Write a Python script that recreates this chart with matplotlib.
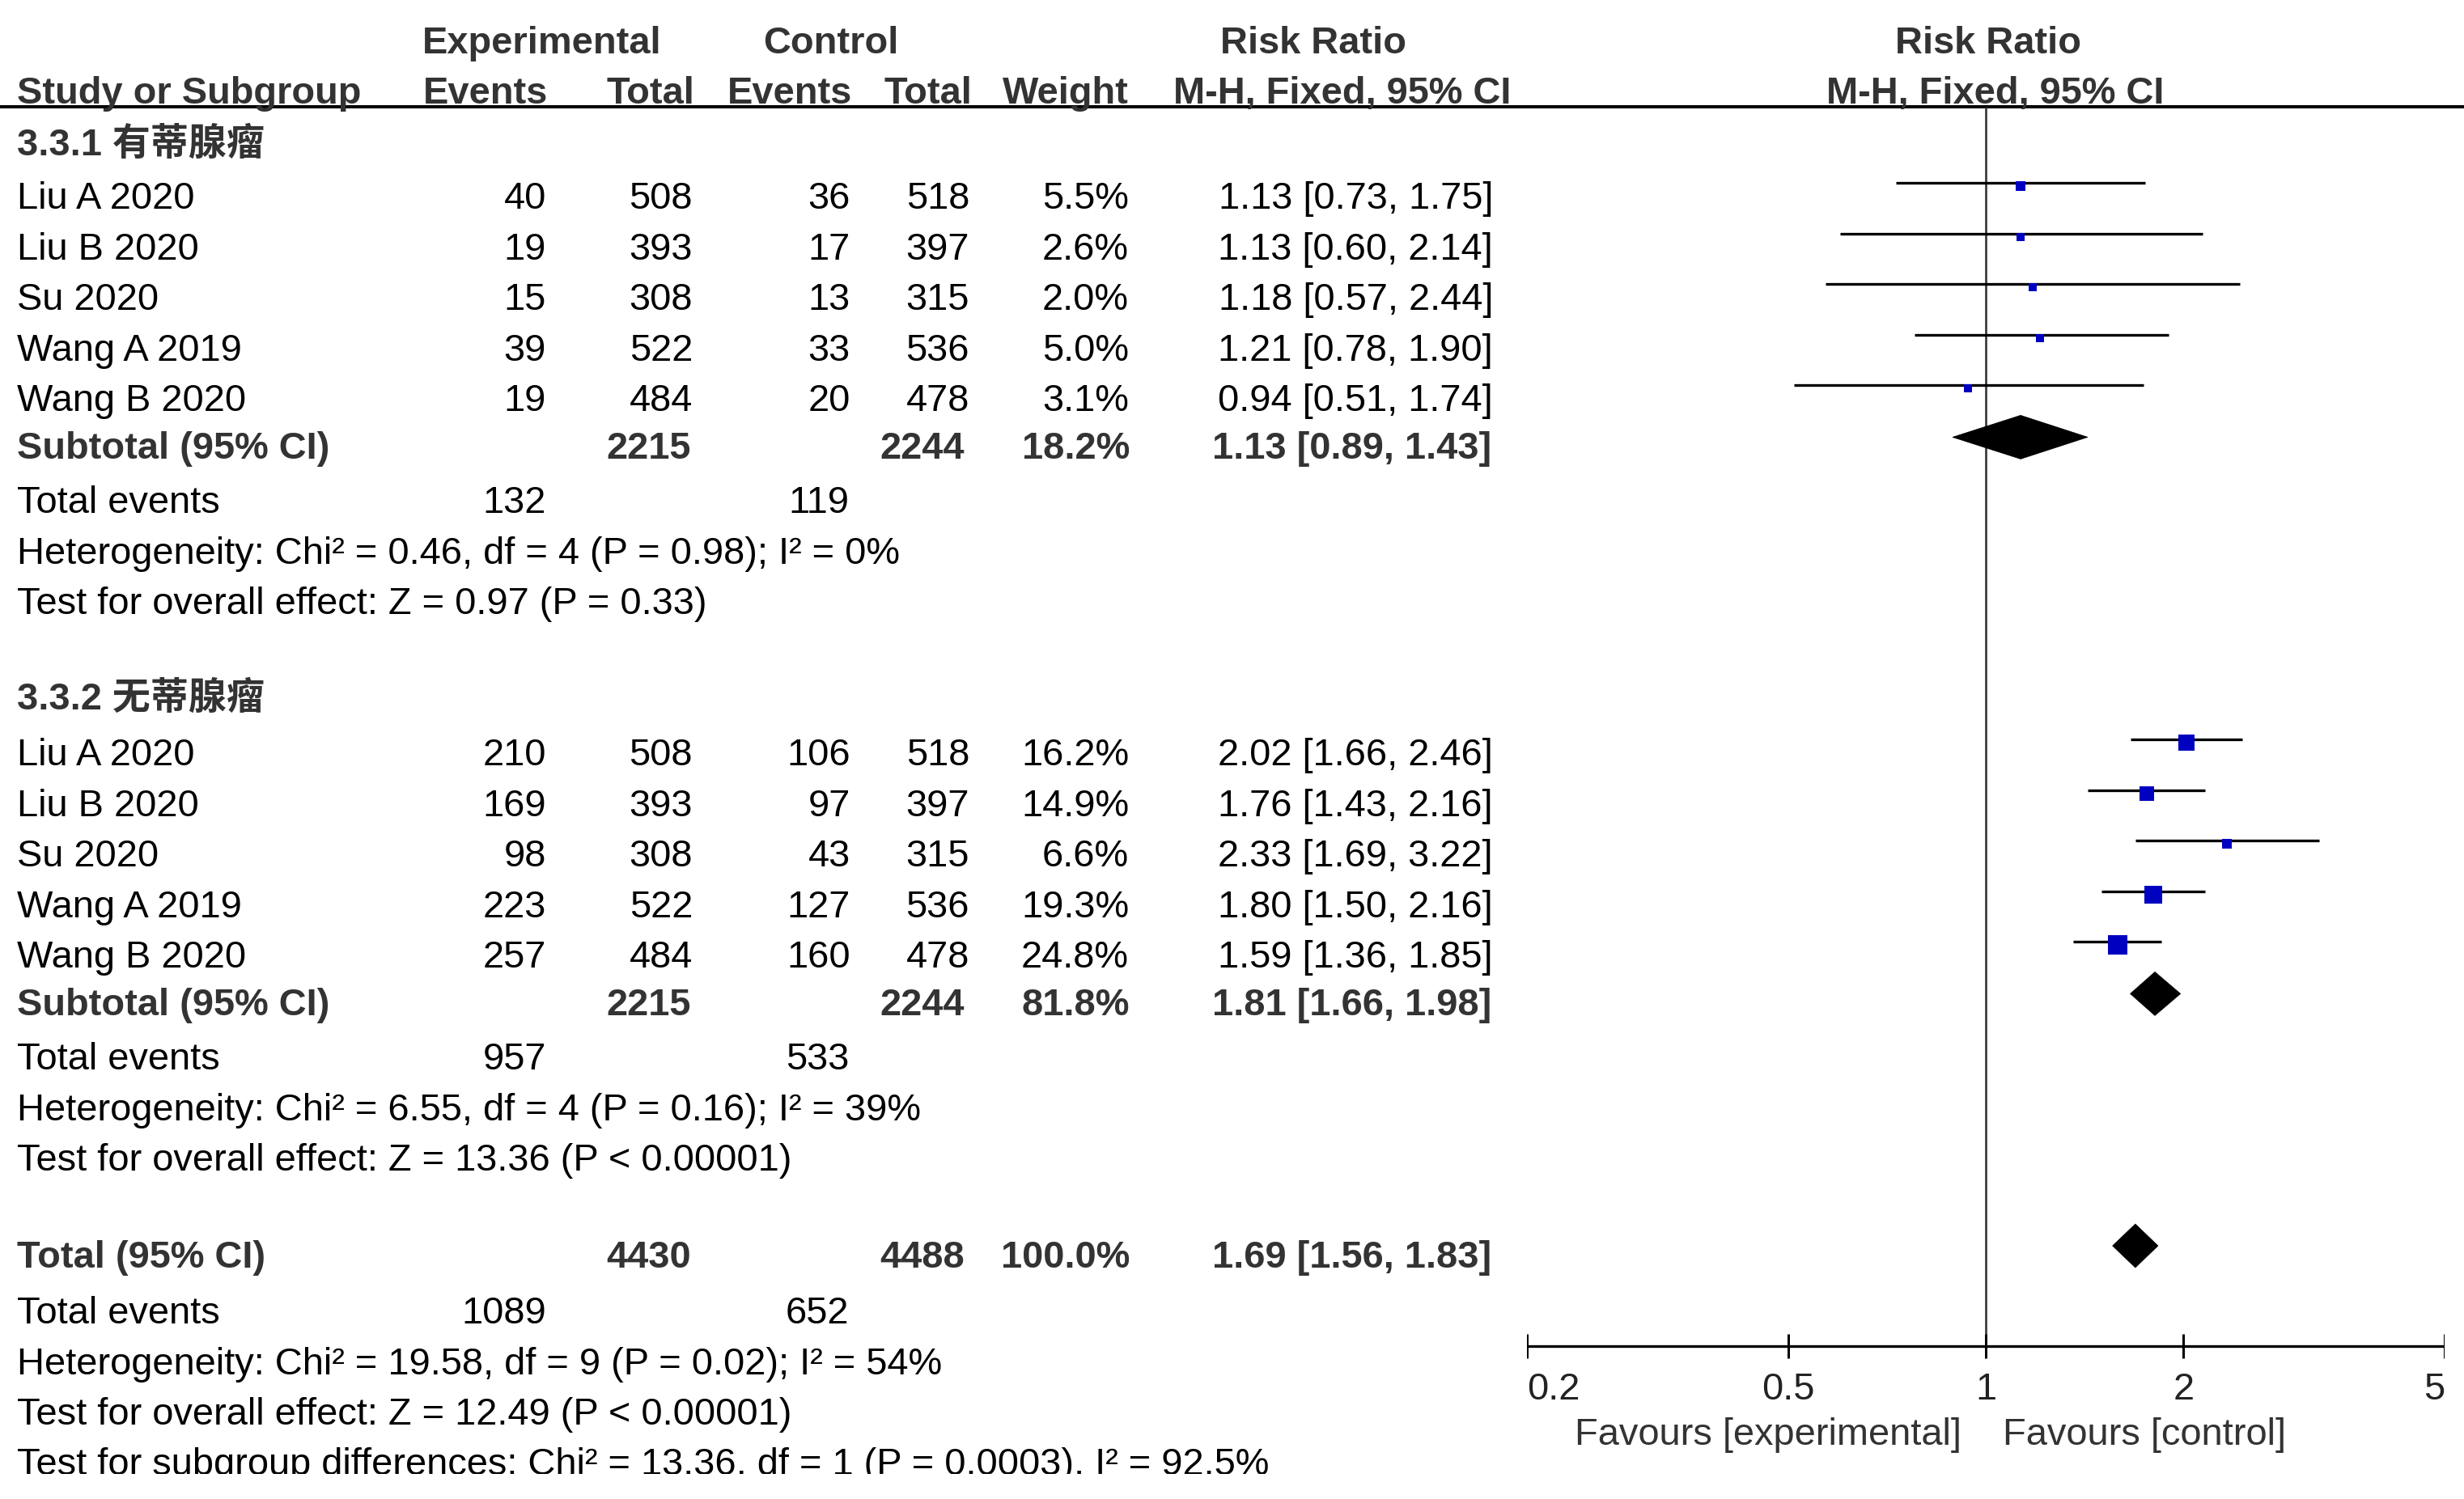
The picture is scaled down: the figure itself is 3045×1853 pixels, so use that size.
import matplotlib
matplotlib.use("Agg")
import matplotlib.pyplot as plt
from matplotlib.patches import Polygon

plt.rcParams['font.family'] = ['Liberation Sans', 'Noto Sans CJK SC', 'DejaVu Sans']

# ---------------- data ----------------
group_titles = ["3.3.1 有蒂腺瘤", "3.3.2 无蒂腺瘤"]
studies = ["Liu A 2020", "Liu B 2020", "Su 2020", "Wang A 2019", "Wang B 2020"]

exp_events_1 = [40, 19, 15, 39, 19]
exp_total_1 = [508, 393, 308, 522, 484]
ctrl_events_1 = [36, 17, 13, 33, 20]
ctrl_total_1 = [518, 397, 315, 536, 478]
weight_1 = [5.5, 2.6, 2.0, 5.0, 3.1]
rr_1 = [1.13, 1.13, 1.18, 1.21, 0.94]
lo_1 = [0.73, 0.60, 0.57, 0.78, 0.51]
hi_1 = [1.75, 2.14, 2.44, 1.90, 1.74]

exp_events_2 = [210, 169, 98, 223, 257]
exp_total_2 = [508, 393, 308, 522, 484]
ctrl_events_2 = [106, 97, 43, 127, 160]
ctrl_total_2 = [518, 397, 315, 536, 478]
weight_2 = [16.2, 14.9, 6.6, 19.3, 24.8]
rr_2 = [2.02, 1.76, 2.33, 1.80, 1.59]
lo_2 = [1.66, 1.43, 1.69, 1.50, 1.36]
hi_2 = [2.46, 2.16, 3.22, 2.16, 1.85]

# subtotal / total: exp_total, ctrl_total, weight, rr, lo, hi, exp_events, ctrl_events
sub_1 = [2215, 2244, 18.2, 1.13, 0.89, 1.43, 132, 119]
sub_2 = [2215, 2244, 81.8, 1.81, 1.66, 1.98, 957, 533]
overall = [4430, 4488, 100.0, 1.69, 1.56, 1.83, 1089, 652]

het_1 = "Heterogeneity: Chi² = 0.46, df = 4 (P = 0.98); I² = 0%"
eff_1 = "Test for overall effect: Z = 0.97 (P = 0.33)"
het_2 = "Heterogeneity: Chi² = 6.55, df = 4 (P = 0.16); I² = 39%"
eff_2 = "Test for overall effect: Z = 13.36 (P < 0.00001)"
het_t = "Heterogeneity: Chi² = 19.58, df = 9 (P = 0.02); I² = 54%"
eff_t = "Test for overall effect: Z = 12.49 (P < 0.00001)"
sub_diff = "Test for subgroup differences: Chi² = 13.36, df = 1 (P = 0.0003), I² = 92.5%"

x_ticks = [0.2, 0.5, 1, 2, 5]
x_tick_labels = ["0.2", "0.5", "1", "2", "5"]
favours = ["Favours [experimental]", "Favours [control]"]

# ---------------- layout (pixels) ----------------
W, H = 3045, 1853
CLIP_Y = 1822
FS = 33.8
BLUE = "#0000C0"
GRAY = "#333333"
PX = 0.72  # points per pixel at dpi 100

fig = plt.figure(figsize=(W / 100, H / 100), dpi=100)
fig.patch.set_facecolor("white")

tax = fig.add_axes([0, (H - CLIP_Y) / H, 1, CLIP_Y / H])
tax.set_xlim(0, W)
tax.set_ylim(CLIP_Y, 0)
tax.axis("off")
tax.patch.set_alpha(0)

FX0, FX1 = 1887, 3021
fax = fig.add_axes([FX0 / W, (H - CLIP_Y) / H, (FX1 - FX0) / W, CLIP_Y / H])
fax.set_xscale("log")
fax.set_xlim(x_ticks[0], x_ticks[-1])
fax.set_ylim(CLIP_Y, 0)
fax.axis("off")
fax.patch.set_alpha(0)


def T(x, y, s, ha="left", bold=False, color="black", clip=False):
    t = tax.text(x, y, s, ha=ha, va="baseline", fontsize=FS,
                 fontweight="bold" if bold else "normal", color=color)
    if clip:
        t.set_clip_on(True)
    return t


# column right edges
C_EE, C_ET, C_CE, C_CT, C_W, C_CI = 675, 856, 1051, 1198, 1395, 1845
X_LEFT = 21

# headers
T(670, 66, "Experimental", ha="center", bold=True, color=GRAY)
T(1027, 66, "Control", ha="center", bold=True, color=GRAY)
T(1623, 66, "Risk Ratio", ha="center", bold=True, color=GRAY)
T(2457, 66, "Risk Ratio", ha="center", bold=True, color=GRAY)
T(X_LEFT, 128, "Study or Subgroup", bold=True, color=GRAY)
T(677, 128, "Events", ha="right", bold=True, color=GRAY)
T(858, 128, "Total", ha="right", bold=True, color=GRAY)
T(1053, 128, "Events", ha="right", bold=True, color=GRAY)
T(1201, 128, "Total", ha="right", bold=True, color=GRAY)
T(1395, 128, "Weight", ha="right", bold=True, color=GRAY)
T(1867, 128, "M-H, Fixed, 95% CI", ha="right", bold=True, color=GRAY)
T(2466, 128, "M-H, Fixed, 95% CI", ha="center", bold=True, color=GRAY)

HLINE_Y = 132
AXIS_Y = 1664
tax.axhline(HLINE_Y, color="black", lw=4 * PX)

# vertical line of no effect
fax.vlines(1, HLINE_Y, AXIS_Y, color=GRAY, lw=2.6 * PX, zorder=1)

ROW = 62.6


def ci_str(r, l, h):
    return f"{r:.2f} [{l:.2f}, {h:.2f}]"


def draw_total_row(y, label, vals):
    T(X_LEFT, y, label, bold=True, color=GRAY)
    T(C_ET - 2, y, str(vals[0]), ha="right", bold=True, color=GRAY)
    T(C_CT - 6, y, str(vals[1]), ha="right", bold=True, color=GRAY)
    T(C_W + 1, y, f"{vals[2]:.1f}%", ha="right", bold=True, color=GRAY)
    T(C_CI - 2, y, ci_str(vals[3], vals[4], vals[5]), ha="right", bold=True, color=GRAY)
    dy = y - 27
    fax.add_patch(Polygon([(vals[4], dy), (vals[3], dy - 27), (vals[5], dy), (vals[3], dy + 27)],
                          closed=True, facecolor="black", edgecolor="black", lw=0.5, zorder=3))


def draw_group(title, title_y, first_y, ee, et, ce, ct, wt, rr, lo, hi, sub, het, eff):
    T(X_LEFT, title_y, title, bold=True, color=GRAY)
    ys = [first_y + i * ROW for i in range(len(studies))]
    for i, y in enumerate(ys):
        T(X_LEFT, y, studies[i])
        T(C_EE, y, str(ee[i]), ha="right")
        T(C_ET, y, str(et[i]), ha="right")
        T(C_CE, y, str(ce[i]), ha="right")
        T(C_CT, y, str(ct[i]), ha="right")
        T(C_W, y, f"{wt[i]:.1f}%", ha="right")
        T(C_CI, y, ci_str(rr[i], lo[i], hi[i]), ha="right")
        ly = y - 32
        fax.plot([lo[i], hi[i]], [ly, ly], color="black", lw=3.3 * PX,
                 solid_capstyle="butt", zorder=2)
        side = max(4.82 * wt[i] ** 0.5, 10) * PX
        fax.scatter([rr[i]], [ly + 4], marker="s", s=side ** 2, color=BLUE,
                    linewidths=0, zorder=3)
    sy = ys[-1] + 59
    draw_total_row(sy, "Subtotal (95% CI)", sub)
    T(X_LEFT, sy + 67, "Total events")
    T(C_EE, sy + 67, str(sub[6]), ha="right")
    T(C_CE - 2, sy + 67, str(sub[7]), ha="right")
    T(X_LEFT, sy + 130, het)
    T(X_LEFT, sy + 192, eff)


draw_group(group_titles[0], 192, 258, exp_events_1, exp_total_1, ctrl_events_1, ctrl_total_1,
           weight_1, rr_1, lo_1, hi_1, sub_1, het_1, eff_1)
draw_group(group_titles[1], 877, 946, exp_events_2, exp_total_2, ctrl_events_2, ctrl_total_2,
           weight_2, rr_2, lo_2, hi_2, sub_2, het_2, eff_2)

# overall
draw_total_row(1567, "Total (95% CI)", overall)
T(X_LEFT, 1636, "Total events")
T(C_EE, 1636, str(overall[6]), ha="right")
T(C_CE - 2, 1636, str(overall[7]), ha="right")
T(X_LEFT, 1699, het_t)
T(X_LEFT, 1761, eff_t)
T(X_LEFT, 1823, sub_diff, clip=True)

# forest axis
fax.plot([x_ticks[0], x_ticks[-1]], [AXIS_Y, AXIS_Y], color="black", lw=3.3 * PX,
         solid_capstyle="butt", zorder=2)
fax.vlines(x_ticks, AXIS_Y - 15, AXIS_Y + 15, color="black", lw=3 * PX, zorder=2)
for i, (tv, tl) in enumerate(zip(x_ticks, x_tick_labels)):
    ha = "left" if i == 0 else ("right" if i == len(x_ticks) - 1 else "center")
    fax.text(tv, 1730, tl, ha=ha, va="baseline", fontsize=FS, color="#222222")

T(2424, 1786, favours[0], ha="right", color=GRAY)
T(2475, 1786, favours[1], ha="left", color=GRAY)

fig.savefig("out.png", dpi=100, facecolor="white")
